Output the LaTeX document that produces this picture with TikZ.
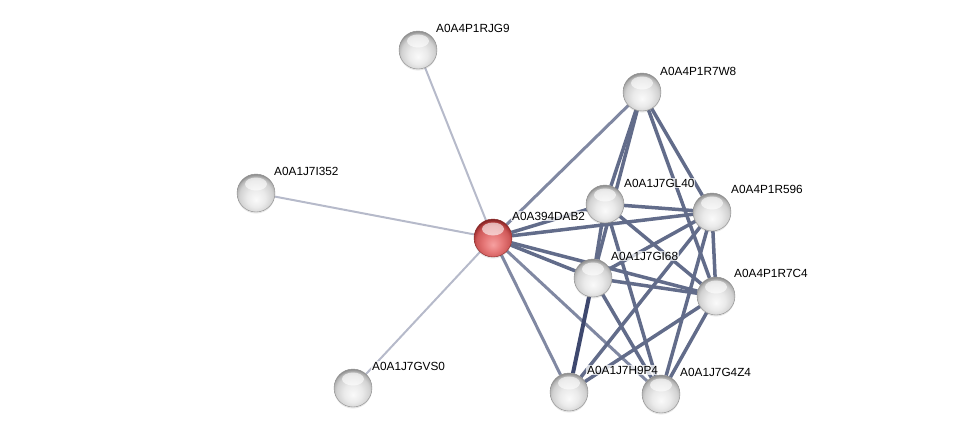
\documentclass[tikz,border=0pt]{standalone}
\usepackage{fontspec}
\setmainfont{Liberation Sans}
\usetikzlibrary{calc,shadows}
\pgfdeclarelayer{bg}
\pgfsetlayers{bg,main}
\definecolor{eA}{RGB}{182,186,202}
\definecolor{eB}{RGB}{128,136,162}
\definecolor{eC}{RGB}{98,108,138}
\definecolor{eD}{RGB}{62,72,110}
\definecolor{rA}{RGB}{246,160,160}
\definecolor{rB}{RGB}{230,120,120}
\definecolor{rC}{RGB}{206,88,88}
\definecolor{rD}{RGB}{170,55,55}
\definecolor{rE}{RGB}{135,40,40}
\pgfdeclareradialshading{wballshade}{\pgfpoint{0bp}{-9bp}}{color(0bp)=(white!98!black); color(12bp)=(white!92!black); color(22bp)=(white!82!black); color(26bp)=(white!70!black); color(28bp)=(white!58!black); color(50bp)=(white!58!black)}
\pgfdeclareradialshading{rballshade}{\pgfpoint{0bp}{-9bp}}{color(0bp)=(rA); color(12bp)=(rB); color(22bp)=(rC); color(26bp)=(rD); color(28bp)=(rE); color(50bp)=(rE)}
\tikzset{
  ballbase/.style={circle, minimum size=38pt, inner sep=0pt, line width=0.4pt,
    path picture={\fill[white,opacity=0.6] ($(path picture bounding box.center)+(0,9pt)$) ellipse (11pt and 6.5pt);},
    drop shadow={shadow xshift=0pt, shadow yshift=-1.5pt, opacity=0.2}},
  wball/.style={ballbase, shading=wballshade, draw=white!55!black},
  rball/.style={ballbase, shading=rballshade, draw=rE},
  lbl/.style={anchor=west, inner sep=1pt, fill=white, fill opacity=0.75, text opacity=1,
    font=\fontsize{11.8}{14}\selectfont},
  e1/.style={draw=eA, line width=2pt},
  e2/.style={draw=eB, line width=3pt},
  e3/.style={draw=eC, line width=3.5pt},
  e4/.style={draw=eD, line width=4pt},
}
\begin{document}
\begin{tikzpicture}[x=1pt,y=-1pt]
\useasboundingbox (0,0) rectangle (976,439);
% nodes
\node[wball] (rjg9) at (418,50) {};
\node[wball] (r7w8) at (642,92) {};
\node[wball] (i352) at (256,193) {};
\node[wball] (gl40) at (605,204) {};
\node[wball] (r596) at (712,212) {};
\node[rball] (dab2) at (493,238) {};
\node[wball] (gi68) at (593,278) {};
\node[wball] (r7c4) at (716,296) {};
\node[wball] (gvs0) at (353,388) {};
\node[wball] (h9p4) at (569,392) {};
\node[wball] (g4z4) at (661,394) {};
% edges
\begin{pgfonlayer}{bg}
\draw[e1] (dab2) -- (rjg9);
\draw[e1] (dab2) -- (i352);
\draw[e1] (dab2) -- (gvs0);
\draw[e2] (dab2) -- (r7w8);
\draw[e3] (dab2) -- (gl40);
\draw[e3] (dab2) -- (r596);
\draw[e3] (dab2) -- (gi68);
\draw[e3] (dab2) -- (r7c4);
\draw[e2] (dab2) -- (h9p4);
\draw[e2] (dab2) -- (g4z4);
\draw[e3] (r7w8) -- (gl40);
\draw[e3] (r7w8) -- (gi68);
\draw[e3] (r7w8) -- (r596);
\draw[e3] (r7w8) -- (r7c4);
\draw[e3] (gl40) -- (r596);
\draw[e3] (gl40) -- (gi68);
\draw[e3] (gl40) -- (r7c4);
\draw[e3] (gl40) -- (g4z4);
\draw[e3] (r596) -- (gi68);
\draw[e3] (r596) -- (r7c4);
\draw[e3] (r596) -- (h9p4);
\draw[e3] (r596) -- (g4z4);
\draw[e3] (gi68) -- (r7c4);
\draw[e4] (gi68) -- (h9p4);
\draw[e3] (gi68) -- (g4z4);
\draw[e3] (r7c4) -- (h9p4);
\draw[e3] (r7c4) -- (g4z4);
\end{pgfonlayer}
% labels
\node[lbl] (lrjg9) at ($(rjg9)+(17,-22)$) {A0A4P1RJG9};
\node[lbl] (lr7w8) at ($(r7w8)+(17,-21)$) {A0A4P1R7W8};
\node[lbl] (li352) at ($(i352)+(17,-22)$) {A0A1J7I352};
\node[lbl] (lgl40) at ($(gl40)+(18,-21)$) {A0A1J7GL40};
\node[lbl] (lr596) at ($(r596)+(18,-23)$) {A0A4P1R596};
\node[lbl] (ldab2) at ($(dab2)+(18,-22)$) {A0A394DAB2};
\node[lbl] (lgi68) at ($(gi68)+(17,-22)$) {A0A1J7GI68};
\node[lbl] (lr7c4) at ($(r7c4)+(17,-23)$) {A0A4P1R7C4};
\node[lbl] (lgvs0) at ($(gvs0)+(18,-22)$) {A0A1J7GVS0};
\node[lbl] (lh9p4) at ($(h9p4)+(17,-22)$) {A0A1J7H9P4};
\node[lbl] (lg4z4) at ($(g4z4)+(18,-22)$) {A0A1J7G4Z4};
\end{tikzpicture}
\end{document}
